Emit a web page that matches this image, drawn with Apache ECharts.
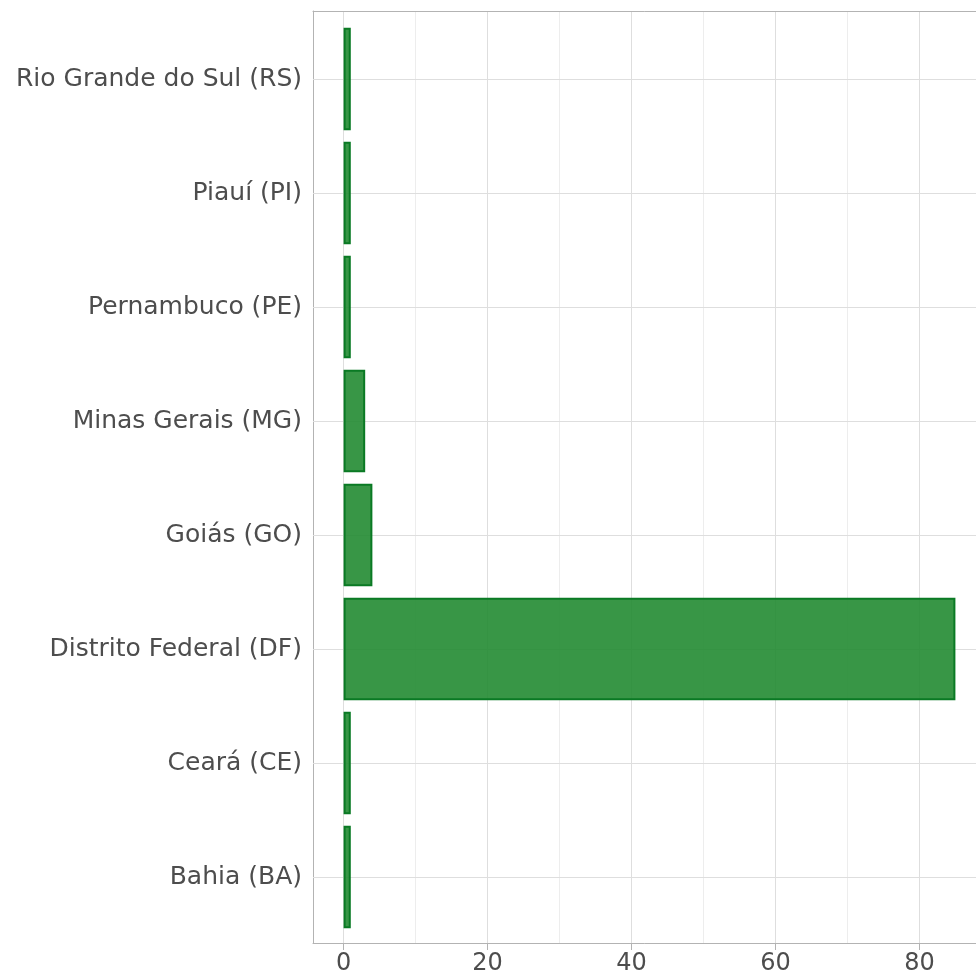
<!DOCTYPE html>
<html>
<head>
<meta charset="utf-8">
<script src="https://cdn.jsdelivr.net/npm/echarts@6/dist/echarts.min.js"></script>
<style>html,body{margin:0;padding:0;background:#fff}#c{width:976px;height:975px}</style>
</head>
<body>
<div id="c"></div>
<script>
// Categories bottom-to-top (ECharts category y axis starts at bottom)
const categories = ['Bahia (BA)', 'Ceará (CE)', 'Distrito Federal (DF)', 'Goiás (GO)', 'Minas Gerais (MG)', 'Pernambuco (PE)', 'Piauí (PI)', 'Rio Grande do Sul (RS)'];
const values = [1, 1, 85, 4, 3, 1, 1, 1];
const xTickLabels = [0, 20, 40, 60, 80];

const FONT = 'DejaVu Sans';
const TXT = '#4D4D4D';
const BORDER = '#B3B3B3';
const chart = echarts.init(document.getElementById('c'), null, {renderer: 'canvas'});
chart.setOption({
  animation: false,
  backgroundColor: '#fff',
  grid: [
    {left: 313, top: 11, width: 673, height: 932, show: false, containLabel: false, outerBoundsMode: 'none'},
    {left: 313, top: 22, width: 673, height: 912, show: false, containLabel: false, outerBoundsMode: 'none'}
  ],
  xAxis: [
    {
      type: 'value', gridIndex: 0, min: -4.25, max: 89.25, splitNumber: 5, position: 'bottom',
      axisLine: {show: true, onZero: false, lineStyle: {color: BORDER, width: 1}},
      axisTick: {show: true, length: 7, customValues: xTickLabels, lineStyle: {color: BORDER, width: 1}},
      axisLabel: {
        show: true, margin: 9, fontFamily: FONT, fontSize: 24, color: TXT, customValues: xTickLabels,
        formatter: v => xTickLabels.indexOf(v) >= 0 ? String(v) : ''
      },
      splitLine: {show: true, lineStyle: {color: '#DEDEDE', width: 1}},
      minorTick: {show: false, splitNumber: 2},
      minorSplitLine: {show: true, lineStyle: {color: '#EDEDED', width: 1}}
    },
    {
      type: 'value', gridIndex: 1, min: -4.25, max: 89.25, show: false,
      splitLine: {show: false}
    },
    {
      type: 'value', gridIndex: 0, min: -4.25, max: 89.25, position: 'top',
      axisLine: {show: true, onZero: false, lineStyle: {color: BORDER, width: 1}},
      axisTick: {show: false}, axisLabel: {show: false}, splitLine: {show: false}
    }
  ],
  yAxis: [
    {
      type: 'value', gridIndex: 0, min: 0, max: 1, position: 'left',
      axisLine: {show: true, onZero: false, lineStyle: {color: BORDER, width: 1}},
      axisTick: {show: false}, axisLabel: {show: false}, splitLine: {show: false}
    },
    {
      type: 'category', gridIndex: 1, data: categories,
      axisLine: {show: false},
      axisTick: {show: true, alignWithLabel: true, length: 7, lineStyle: {color: BORDER, width: 1}},
      axisLabel: {fontFamily: FONT, fontSize: 25, color: TXT, margin: 11},
      splitLine: {show: false}
    }
  ],
  series: [
    {
      type: 'line', xAxisIndex: 1, yAxisIndex: 1, data: [], z: 1, silent: true,
      markLine: {
        silent: true, symbol: 'none', label: {show: false}, z: 1,
        lineStyle: {color: '#DEDEDE', width: 1, type: 'solid'},
        data: categories.map(c => ({yAxis: c}))
      }
    },
    {
      type: 'bar', xAxisIndex: 1, yAxisIndex: 1, data: values, barWidth: '90%', z: 2,
      itemStyle: {color: 'rgba(34,139,50,0.9)', borderColor: '#0A7A24', borderWidth: 2}
    }
  ]
});
</script>
</body>
</html>
